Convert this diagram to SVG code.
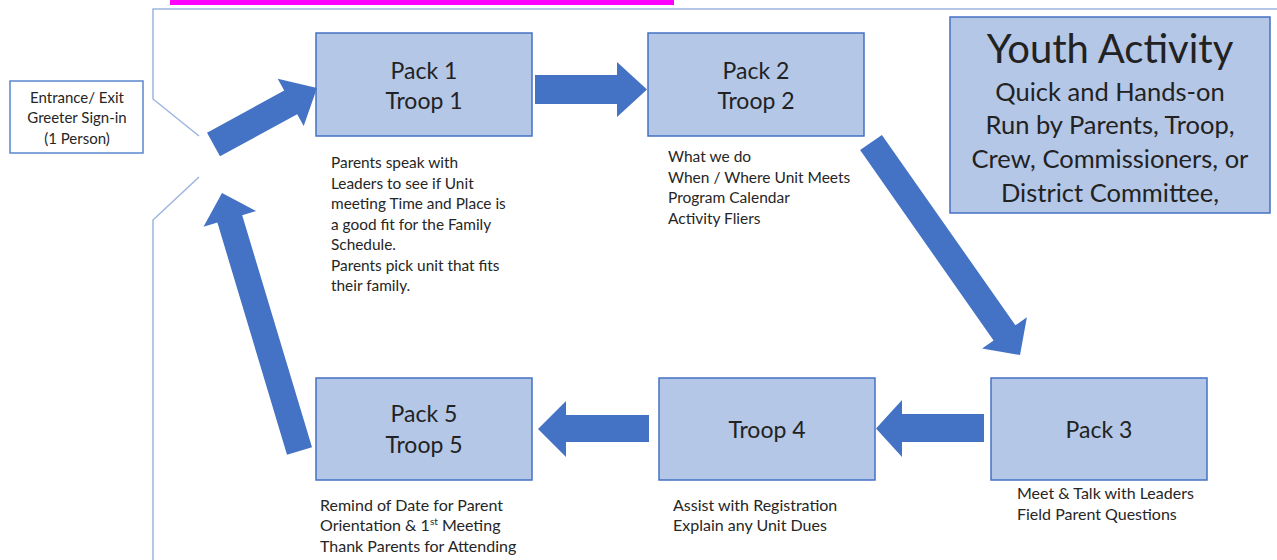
<svg xmlns="http://www.w3.org/2000/svg" width="1277" height="560" viewBox="0 0 1277 560">
<style>
.box{fill:#B4C7E7;stroke:#4472C4;stroke-width:1.5}
.lbl{font-family:Lato,"Liberation Sans",sans-serif;font-size:23px;fill:#222;text-anchor:middle}
.title{font-size:40px}
.sub{font-size:25.5px}
.note{font-family:Lato,"Liberation Sans",sans-serif;font-size:15px;fill:#262626}
.n1{font-size:15.4px}
.n2{font-size:15.5px}
.n3{font-size:16px}
.arrow{fill:#4472C4}
.frame{fill:none;stroke:#9DB5E0;stroke-width:1.5}
</style>
<rect x="0" y="0" width="1277" height="560" fill="#fff"/>
<rect x="170" y="0" width="504" height="5" fill="#FF00FF"/>
<path class="frame" d="M1277 9 H153 V99 L199 136 M199 177 L153 220 V560"/>

<g id="entrance">
<rect x="10" y="81" width="133" height="72" fill="#fff" stroke="#5B87CE" stroke-width="1.5"/>
<text class="note" text-anchor="middle" x="77" y="103">Entrance/ Exit</text>
<text class="note" text-anchor="middle" x="77" y="123">Greeter Sign-in</text>
<text class="note" text-anchor="middle" x="77" y="144">(1 Person)</text>
</g>

<g id="pack1">
<rect class="box" x="316" y="33" width="216" height="103"/>
<text class="lbl" x="424" y="79">Pack 1</text>
<text class="lbl" x="424" y="109">Troop 1</text>
</g>
<g id="note1">
<text class="note n1">
<tspan x="331" y="168">Parents speak with</tspan>
<tspan x="331" y="188.5">Leaders to see if Unit</tspan>
<tspan x="331" y="209">meeting Time and Place is</tspan>
<tspan x="331" y="229.5">a good fit for the Family</tspan>
<tspan x="331" y="250">Schedule.</tspan>
<tspan x="331" y="270.5">Parents pick unit that fits</tspan>
<tspan x="331" y="291">their family.</tspan>
</text>
</g>

<g id="pack2">
<rect class="box" x="648" y="33" width="216" height="103"/>
<text class="lbl" x="756" y="79">Pack 2</text>
<text class="lbl" x="756" y="109">Troop 2</text>
</g>
<g id="note2">
<text class="note n2">
<tspan x="668" y="162">What we do</tspan>
<tspan x="668" y="182.5">When / Where Unit Meets</tspan>
<tspan x="668" y="203">Program Calendar</tspan>
<tspan x="668" y="223.5">Activity Fliers</tspan>
</text>
</g>

<g id="youth">
<rect class="box" x="950" y="17" width="320" height="196"/>
<text class="lbl title" x="1110" y="63">Youth Activity</text>
<text class="lbl sub" x="1110" y="101">Quick and Hands-on</text>
<text class="lbl sub" x="1110" y="134">Run by Parents, Troop,</text>
<text class="lbl sub" x="1110" y="168">Crew, Commissioners,  or</text>
<text class="lbl sub" x="1110" y="202">District Committee,</text>
</g>

<g id="pack3">
<rect class="box" x="991" y="378" width="216" height="102"/>
<text class="lbl" x="1099" y="438">Pack 3</text>
</g>
<g id="note3">
<text class="note n3">
<tspan x="1017" y="499">Meet &amp; Talk with Leaders</tspan>
<tspan x="1017" y="520">Field Parent Questions</tspan>
</text>
</g>

<g id="troop4">
<rect class="box" x="659" y="378" width="216" height="102"/>
<text class="lbl" x="767" y="438">Troop 4</text>
</g>
<g id="note4">
<text class="note n3">
<tspan x="673" y="511">Assist with Registration</tspan>
<tspan x="673" y="531">Explain any Unit Dues</tspan>
</text>
</g>

<g id="pack5">
<rect class="box" x="316" y="378" width="216" height="102"/>
<text class="lbl" x="424" y="422">Pack 5</text>
<text class="lbl" x="424" y="453">Troop 5</text>
</g>
<g id="note5">
<text class="note n3">
<tspan x="320" y="511">Remind of Date for Parent</tspan>
<tspan x="320" y="531">Orientation &amp; 1</tspan><tspan style="font-size:10px" dy="-6">st</tspan><tspan dy="6"> Meeting</tspan>
<tspan x="320" y="552">Thank Parents for Attending</tspan>
</text>
</g>

<g id="connectors">
<polygon class="arrow" points="207,132.7 284.2,90.6 277.7,78.7 317,88 303.7,126.1 297.2,114.2 220,156.3"/>
<polygon class="arrow" points="535,75 617,75 617,62 647,89.5 617,117 617,104 535,104"/>
<polygon class="arrow" points="881.9,134.9 1015.4,325.3 1026.9,317.2 1020,355 982.1,348.6 993.6,340.5 860.1,150.1"/>
<polygon class="arrow" points="984,414 902,414 902,400 876,428.5 902,457 902,442 984,442"/>
<polygon class="arrow" points="649,415 566,415 566,401 538,429 566,457 566,442 649,442"/>
<polygon class="arrow" points="312,447.3 242.2,215.2 256.1,211 222,193 203.5,226.8 217.4,222.6 287,454.7"/>
</g>
</svg>
